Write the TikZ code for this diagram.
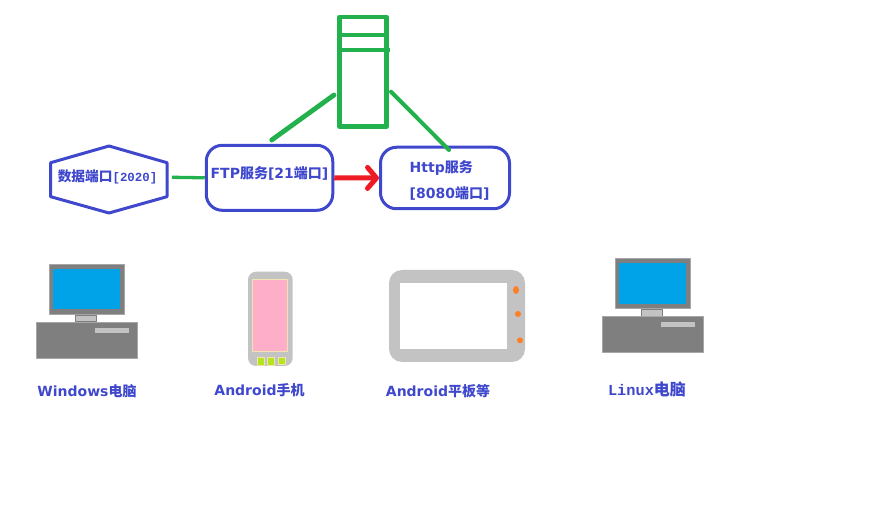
\documentclass[tikz,border=0pt]{standalone}
\usepackage{fontspec}
\setmainfont{DejaVu Sans}
\newfontfamily\cjk{Noto Sans CJK SC}
\newfontfamily\latn{DejaVu Sans}
\newfontfamily\mono{Liberation Mono}
\usetikzlibrary{arrows.meta,calc,positioning}
\definecolor{bluel}{HTML}{3F48CC}
\definecolor{greenl}{HTML}{22B14C}
\definecolor{redl}{HTML}{ED1C24}
\definecolor{grayd}{HTML}{7F7F7F}
\definecolor{grayl}{HTML}{C3C3C3}
\definecolor{sky}{HTML}{00A2E8}
\definecolor{cream}{HTML}{EFE4B0}
\definecolor{rosa}{HTML}{FFAEC9}
\definecolor{lime}{HTML}{B5E61D}
\definecolor{orangel}{HTML}{FF7F27}
\newcommand{\uilab}[2]{{\bfseries\latn\fontsize{14}{14}\selectfont #1{\cjk #2}}}
\tikzset{
  box/.style={draw=bluel,line width=3pt,rounded corners=16pt,inner sep=0pt},
  txt/.style={text=bluel,inner sep=0pt},
  greenline/.style={draw=greenl,line width=4pt,line cap=round},
  unit/.style={draw=gray!70,line width=0.9pt}
}
\begin{document}
\begin{tikzpicture}[x=1pt,y=-1pt,line join=round]
	\useasboundingbox (0,0) rectangle (895,526);
	% server
	\node[draw=greenl,line width=4.5pt,minimum width=47pt,minimum height=109.5pt,inner sep=0pt] (server) at (363,71.7) {};
	\coordinate (sl) at (339.5,35);
	\coordinate (sr) at (386.5,35);
	\coordinate (tl) at (339.5,50);
	\coordinate (tr) at (390,50);
	\draw[draw=greenl,line width=4pt] (sl)--(sr) (tl)--(tr);
	% services
	\node[box,minimum width=126.5pt,minimum height=65pt] (ftp) at (269.5,177.8) {};
	\node[box,minimum width=129pt,minimum height=61.5pt] (http) at (445,178) {};
	\coordinate (H1) at (50.7,162.7);
	\coordinate (H2) at (109,146);
	\coordinate (H3) at (167,162.7);
	\coordinate (H4) at (167,196.7);
	\coordinate (H5) at (109,213);
	\coordinate (H6) at (50.7,196.7);
	\draw[draw=bluel,line width=3pt] (H1)--(H2)--(H3)--(H4)--(H5)--(H6)--cycle;
	\node[txt] (dataport) at (107.5,176.5) {\bfseries{\cjk\fontsize{13.7}{14}\selectfont 数据端口}{\mono\fontsize{12.4}{14}\selectfont [2020]}};
	\node[txt] (ftptext) at (269.5,173) {\uilab{FTP}{服务}\uilab{[21}{端口}\uilab{]}{}};
	\node[txt,anchor=west] (httpa) at (409.5,168) {\uilab{Http}{服务}};
	\node[txt,anchor=west] (httpb) at (409.5,193) {\uilab{[8080}{端口}\uilab{]}{}};
	% connectors
	\coordinate (ha) at (172,177.3);
	\coordinate (sa) at (334,95);
	\coordinate (fa) at (271.7,140);
	\coordinate (sb) at (391,91.7);
	\coordinate (hb) at (449,150);
	\draw[greenl,line width=3.3pt] (ha)--(ftp.west);
	\draw[greenline,line width=4.8pt] (fa)--(sa);
	\draw[greenline] (sb)--(hb);
	\draw[redl,line width=5pt,-{Straight Barb[round,length=9pt,width=21pt]}] (ftp.east)--(http.west);
	% desktops
	\foreach \dx/\dy/\nm in {0/0/win,566/-5.7/lin}{
		\begin{scope}[shift={(\dx,\dy)}]
			\fill[grayd,unit] (49.5,264.3) rectangle (124.5,314.3);
			\fill[sky] (53,269) rectangle (120,309.3);
			\fill[grayl,draw=grayd,line width=0.9pt] (75.3,315.3) rectangle (96.7,321.7);
			\fill[grayd,unit] (36.7,322.3) rectangle (137.3,358.3);
			\fill[grayl] (95,328) rectangle (129,333);
		\end{scope}
	}
	% phone
	\fill[grayl,rounded corners=8pt] (248,271.7) rectangle (292.7,366);
	\fill[fill=rosa,draw=cream,line width=0.9pt] (252.6,279.5) rectangle (287.8,351);
	\foreach \a/\b/\c in {257.5/264/365.5,267.5/274/365,278.5/285/364}{
		\fill[fill=lime,draw=cream,line width=0.8pt] (\a,357.5) rectangle (\b,\c);
	}
	% tablet
	\fill[grayl,rounded corners=13pt] (389,270) rectangle (525,362);
	\fill[white] (400,282.7) rectangle (507.3,349);
	\fill[orangel] (516,290) ellipse (3pt and 4pt);
	\fill[orangel] (518,314) circle (3pt);
	\fill[orangel] (520,340.3) circle (3pt);
	% labels
	\node[txt] (winlab) at (87,391) {\uilab{Windows}{电脑}};
	\node[txt] (phonelab) at (259.5,390) {\uilab{Android}{手机}};
	\node[txt] (padlab) at (438,391) {\uilab{Android}{平板等}};
	\node[txt] (linlab) at (647,389) {\bfseries{\mono\fontsize{15.3}{16}\selectfont Linux}{\cjk\fontsize{16}{16}\selectfont 电脑}};
\end{tikzpicture}
\end{document}
